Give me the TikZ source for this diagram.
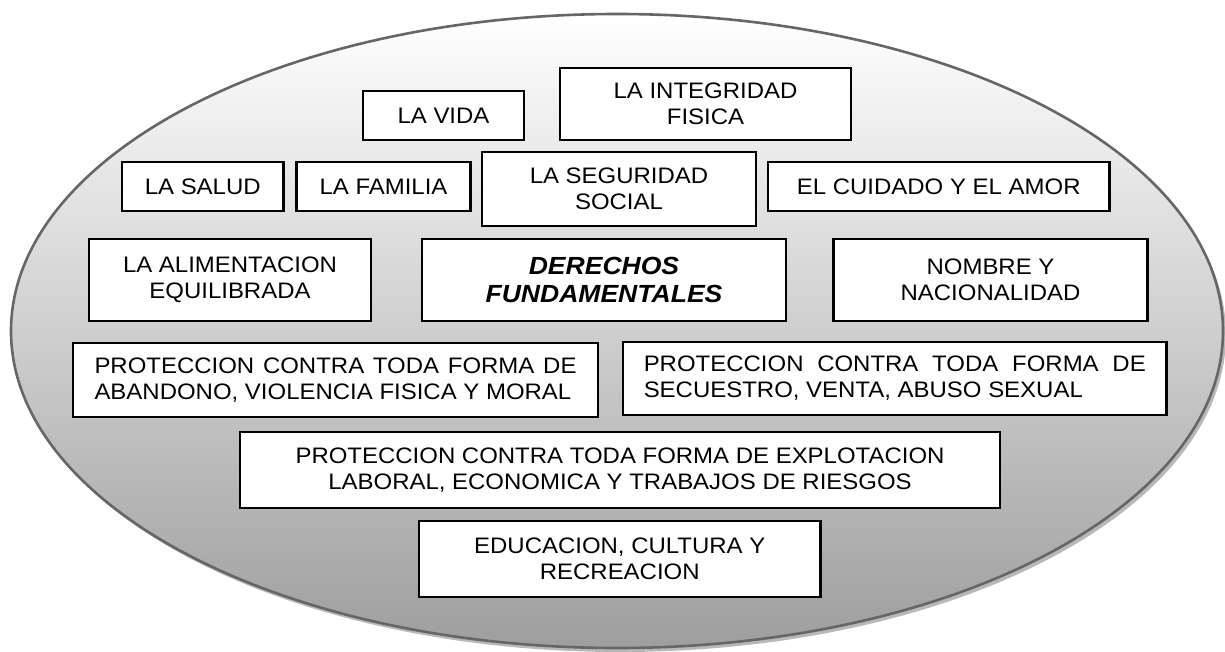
\documentclass[tikz,border=0pt]{standalone}
\usepackage{fontspec}
\setmainfont{Liberation Sans}[FakeStretch=1.07]

\begin{document}
\begin{tikzpicture}[x=0.5pt, y=-0.5pt,
	box/.style={draw=black, line width=1.1pt, fill=white, align=center,
		inner sep=2pt, font=\fontsize{11.2}{13}\selectfont}]
\useasboundingbox (0,0) rectangle (1225,652);
% ellipse with its shadow
\fill[black!28] (620,335) ellipse [x radius=606, y radius=317];
\draw[draw=black!60, line width=1.3pt, top color=white, middle color=black!16,
	bottom color=black!38] (617,331) ellipse [x radius=606, y radius=317];
% boxes
\node[box, minimum width=80.5pt, minimum height=24.5pt] (vida) at (443.5,115.5) {LA VIDA};
\node[box, minimum width=145.5pt, minimum height=36pt] (integridad) at (705.5,104)
	{LA INTEGRIDAD\\FISICA};
\node[box, minimum width=80.75pt, minimum height=24.5pt] (salud) at (202.75,186.5) {LA SALUD};
\node[box, minimum width=87pt, minimum height=24.5pt] (familia) at (383.5,186.5) {LA FAMILIA};
\node[box, minimum width=137pt, minimum height=37pt] (seguridad) at (619,189)
	{LA SEGURIDAD\\SOCIAL};
\node[box, minimum width=170.75pt, minimum height=24.5pt] (cuidado) at (938.75,186.5)
	{EL CUIDADO Y EL AMOR};
\node[box, minimum width=141pt, minimum height=41pt] (alimentacion) at (230,280)
	{LA ALIMENTACION\\EQUILIBRADA};
\node[box, minimum width=182pt, minimum height=41pt,
	font=\fontsize{12.4}{14}\selectfont\bfseries\itshape] (derechos) at (604,280)
	{DERECHOS\\FUNDAMENTALES};
\node[box, minimum width=157pt, minimum height=41pt] (nombre) at (990.5,280)
	{NOMBRE Y\\NACIONALIDAD};
\node[box, align=left, minimum width=262.5pt, minimum height=37pt] (abandono) at (335.5,380)
	{\makebox[241pt][s]{PROTECCION CONTRA TODA FORMA DE}\\
	ABANDONO, VIOLENCIA FISICA Y MORAL};
\node[box, align=left, minimum width=271.75pt, minimum height=36.5pt] (secuestro) at (894.75,378.5)
	{\makebox[251pt][s]{PROTECCION CONTRA TODA FORMA DE}\\
	SECUESTRO, VENTA, ABUSO SEXUAL};
\node[box, minimum width=380pt, minimum height=38pt] (explotacion) at (620,470)
	{PROTECCION CONTRA TODA FORMA DE EXPLOTACION\\
	LABORAL, ECONOMICA Y TRABAJOS DE RIESGOS};
\node[box, minimum width=200.75pt, minimum height=38pt] (educacion) at (619.75,559)
	{EDUCACION, CULTURA Y\\RECREACION};
\end{tikzpicture}
\end{document}
